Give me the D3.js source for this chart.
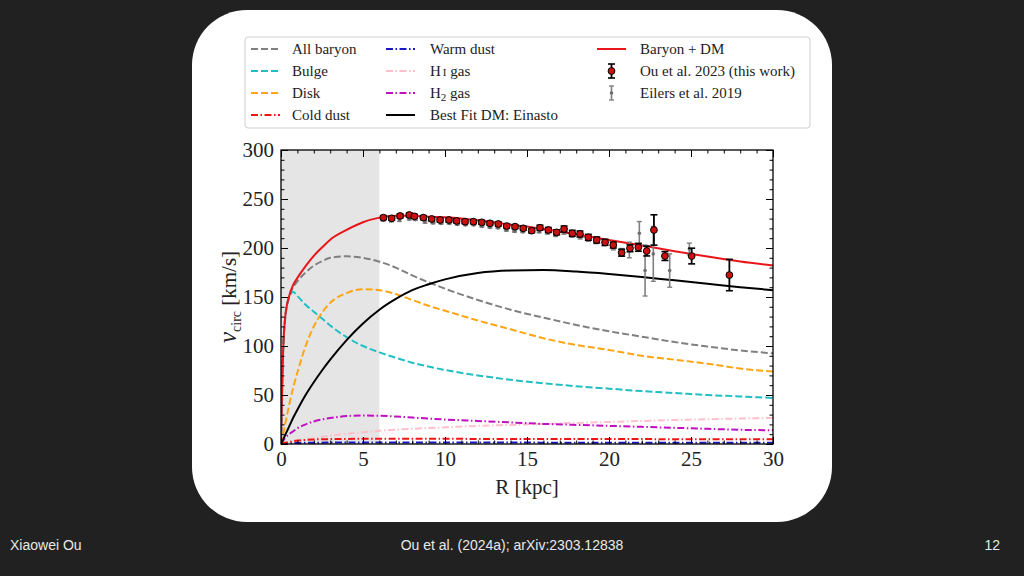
<!DOCTYPE html>
<html>
<head>
<meta charset="utf-8">
<script src="https://cdn.jsdelivr.net/npm/d3@7"></script>
<style>
  html, body { margin: 0; padding: 0; background: #212121; }
  svg { display: block; }
</style>
</head>
<body>
<svg id="chart" width="1024" height="576"></svg>
<script>
// ---------------- DATA ----------------
const rGrid      = [0, 0.1, 0.25, 0.5, 0.75, 1, 1.5, 2, 2.5, 3, 4, 5, 6, 7, 8, 9, 10, 12, 14, 16, 18, 20, 22, 24, 26, 28, 30];
const allBaryon  = [0, 80, 128, 150, 160, 166, 175, 182, 186.5, 190, 191.5, 190, 186, 180, 172, 165, 158.5, 147, 137, 129, 121.5, 115, 109.5, 104, 99.5, 95.5, 92.5];
const bulge      = [0, 80, 127, 150, 155, 151, 142, 135, 128, 121, 109, 100, 93.5, 88, 83, 79, 75.5, 70, 65.5, 62, 59, 56.5, 54, 52, 50, 48.5, 47];
const disk       = [0, 8, 20, 40, 58, 73, 100, 120, 134, 144, 154, 158, 157, 153, 147, 141, 136, 126, 117, 108, 101, 96, 90, 86, 82, 77, 74];
const coldDust   = [0, 0.5, 1.2, 2, 2.8, 3.5, 4.2, 4.6, 4.9, 5, 5.2, 5.3, 5.3, 5.3, 5.3, 5.3, 5.3, 5.2, 5.2, 5.1, 5.1, 5, 5, 4.9, 4.9, 4.8, 4.8];
const warmDust   = [0, 0.2, 0.4, 0.7, 0.9, 1, 1.2, 1.3, 1.4, 1.5, 1.5, 1.5, 1.5, 1.5, 1.5, 1.5, 1.5, 1.5, 1.5, 1.4, 1.4, 1.4, 1.4, 1.4, 1.3, 1.3, 1.3];
const hiGas      = [0, 0.3, 0.8, 1.5, 2.2, 3, 4.5, 6, 7.3, 8.5, 10.5, 12, 13.5, 14.6, 15.5, 16.3, 17, 18.5, 19.5, 20.5, 21.5, 22.5, 23.5, 24.5, 25.2, 26, 26.5];
const h2Gas      = [0, 2.5, 6, 10, 13, 16, 20, 23, 25, 26.5, 28.5, 29, 28.8, 28, 27, 26, 25, 23.5, 22, 20.5, 19.5, 18.5, 17.5, 16.5, 15.5, 14.5, 14];
const dmEinasto  = [0, 3.5, 9, 18, 27, 35, 50, 63, 75, 86, 106, 123, 137, 148, 157, 163, 168, 174.5, 177, 177.5, 176, 173.5, 170.5, 167, 163.5, 160, 157];
const baryonDM   = [0, 80, 128.5, 151, 162.5, 169.5, 181.5, 192, 200.5, 208.5, 218.5, 226.3, 231, 233, 232.9, 231.9, 231.5, 228.2, 223.8, 219.4, 213.9, 208.2, 202.6, 196.7, 191.4, 186.3, 182.2];

const ouR   = [6.24, 6.75, 7.26, 7.82, 8.13, 8.68, 9.19, 9.70, 10.24, 10.71, 11.22, 11.73, 12.24, 12.74, 13.25, 13.76, 14.27, 14.77, 15.29, 15.79, 16.30, 16.81, 17.26, 17.76, 18.23, 18.74, 19.25, 19.76, 20.26, 20.77, 21.28, 21.79, 22.30, 22.74, 23.41, 25.04, 27.34];
const ouV   = [231, 230.3, 232.7, 233.7, 232.3, 231, 229.6, 228.6, 228.6, 227.6, 226.9, 226.9, 226.2, 225.2, 224.5, 222.4, 221.8, 220.1, 217.7, 220.7, 218.4, 216, 219.4, 215, 214.3, 210.9, 208.2, 205.8, 203, 195.2, 199.7, 200.7, 196.9, 218.4, 191.8, 191.8, 172.4];
const ouErr = [2, 2, 2, 2, 2, 2, 2, 2, 2, 2, 2, 2, 2, 2, 2, 2, 2, 2, 2, 2.5, 2.5, 2.5, 3, 3, 3, 3, 3, 3, 3, 3.5, 3.5, 4, 5, 15.5, 4.5, 8, 16];

const eiR   = [6.23, 6.73, 7.22, 7.82, 8.19, 8.78, 9.27, 9.76, 10.26, 10.75, 11.25, 11.75, 12.25, 12.74, 13.23, 13.74, 14.24, 14.74, 15.22, 15.74, 16.24, 16.74, 17.25, 17.75, 18.24, 18.74, 19.22, 19.71, 20.27, 20.78, 21.24, 21.85, 22.2, 22.7, 23.7, 24.9];
const eiV   = [229, 228, 228.5, 229.5, 229, 226.5, 225.5, 225, 225, 224, 223.5, 223.5, 222, 221, 220.5, 218, 217, 216.5, 216, 216.5, 215.5, 213, 215.5, 212.5, 211, 209, 206, 204, 200.5, 197, 198, 215, 177, 194, 177, 199];
const eiErr = [1.7, 1.4, 1.4, 0.9, 0.8, 1.1, 0.7, 0.5, 0.5, 0.5, 0.5, 0.5, 0.6, 0.6, 0.6, 0.7, 0.8, 0.7, 1.1, 0.9, 1.3, 1.3, 1.4, 1.5, 1.8, 2.1, 1.6, 1.9, 2.4, 2.5, 8, 12, 26, 28, 17, 6];

const xTicks = [0, 5, 10, 15, 20, 25, 30];
const yTicks = [0, 50, 100, 150, 200, 250, 300];
const shadedRange = [0, 6];

// ---------------- STYLES ----------------
const DASH = "7,3";
const DASHDOT = "7,2.5,1.5,2.5";
const SERIF = "'Liberation Serif', 'Times New Roman', serif";

const curves = [
  {name: "All baryon",  vals: allBaryon, color: "#808080", dash: DASH,    w: 2},
  {name: "Bulge",       vals: bulge,     color: "#1fbfc4", dash: DASH,    w: 2},
  {name: "Disk",        vals: disk,      color: "#ffa514", dash: DASH,    w: 2},
  {name: "H I gas",     vals: hiGas,     color: "#ffc0cb", dash: DASHDOT, w: 2},
  {name: "H2 gas",      vals: h2Gas,     color: "#c010c0", dash: DASHDOT, w: 2},
  {name: "Warm dust",   vals: warmDust,  color: "#1818c8", dash: DASHDOT, w: 2},
  {name: "Cold dust",   vals: coldDust,  color: "#ee1515", dash: DASHDOT, w: 2},
  {name: "Best Fit DM: Einasto", vals: dmEinasto, color: "#000000", dash: null, w: 2},
  {name: "Baryon + DM", vals: baryonDM,  color: "#e8161b", dash: null,    w: 2},
];

// ---------------- DRAW ----------------
const svg = d3.select("#chart");
svg.append("rect").attr("width", 1024).attr("height", 576).attr("fill", "#212121");
svg.append("rect").attr("x", 192).attr("y", 10).attr("width", 640).attr("height", 512)
   .attr("rx", 55).attr("ry", 55).attr("fill", "#ffffff");

const x = d3.scaleLinear().domain([0, 30]).range([281, 773]);
const y = d3.scaleLinear().domain([0, 300]).range([444, 150]);

svg.append("clipPath").attr("id", "plotclip").append("rect")
  .attr("x", x(0)).attr("y", y(300)).attr("width", x(30) - x(0)).attr("height", y(0) - y(300));

// shaded region
svg.append("rect")
  .attr("x", x(shadedRange[0])).attr("y", y(300))
  .attr("width", x(shadedRange[1]) - x(shadedRange[0]))
  .attr("height", y(0) - y(300))
  .attr("fill", "#e5e5e5");

const plot = svg.append("g").attr("clip-path", "url(#plotclip)");
const line = d3.line().x(d => x(d[0])).y(d => y(d[1])).curve(d3.curveMonotoneX);

curves.forEach(c => {
  plot.append("path")
    .datum(rGrid.map((r, i) => [r, c.vals[i]]))
    .attr("d", line)
    .attr("fill", "none")
    .attr("stroke", c.color)
    .attr("stroke-width", c.w)
    .attr("stroke-dasharray", c.dash)
    .attr("stroke-linejoin", "round");
});

// Eilers et al. 2019 points
const eiData = eiR.map((r, i) => ({r, v: eiV[i], e: eiErr[i]}));
const eg = plot.append("g");
eiData.forEach(d => {
  eg.append("line").attr("x1", x(d.r)).attr("x2", x(d.r))
    .attr("y1", y(d.v - d.e)).attr("y2", y(d.v + d.e))
    .attr("stroke", "#808080").attr("stroke-width", 1.6);
  [d.v - d.e, d.v + d.e].forEach(v => {
    eg.append("line").attr("x1", x(d.r) - 2.5).attr("x2", x(d.r) + 2.5)
      .attr("y1", y(v)).attr("y2", y(v))
      .attr("stroke", "#808080").attr("stroke-width", 1.4);
  });
  eg.append("circle").attr("cx", x(d.r)).attr("cy", y(d.v)).attr("r", 1.8).attr("fill", "#6e6e6e");
});

// Ou et al. 2023 points
const ouData = ouR.map((r, i) => ({r, v: ouV[i], e: ouErr[i]}));
const og = plot.append("g");
ouData.forEach(d => {
  og.append("line").attr("x1", x(d.r)).attr("x2", x(d.r))
    .attr("y1", y(d.v - d.e)).attr("y2", y(d.v + d.e))
    .attr("stroke", "#000").attr("stroke-width", 1.8);
  [d.v - d.e, d.v + d.e].forEach(v => {
    og.append("line").attr("x1", x(d.r) - 3.5).attr("x2", x(d.r) + 3.5)
      .attr("y1", y(v)).attr("y2", y(v))
      .attr("stroke", "#000").attr("stroke-width", 1.6);
  });
});
ouData.forEach(d => {
  og.append("circle").attr("cx", x(d.r)).attr("cy", y(d.v)).attr("r", 3.4)
    .attr("fill", "#cc1010").attr("stroke", "#000").attr("stroke-width", 1);
});

// axes (ticks inward on all four sides)
const minorX = d3.range(0, 31, 1).filter(v => v % 5 !== 0);
const minorY = d3.range(0, 301, 10).filter(v => v % 50 !== 0);

function styleAxis(g) {
  g.select(".domain").remove();
  g.selectAll(".tick line").attr("stroke", "#000").attr("stroke-width", 1);
  g.selectAll("text").attr("font-family", SERIF).attr("font-size", 21).attr("fill", "#222");
}
svg.append("g").attr("transform", `translate(0,${y(0)})`)
  .call(d3.axisBottom(x).tickValues(xTicks).tickSize(-7).tickPadding(7).tickFormat(d3.format("d"))).call(styleAxis);
svg.append("g").attr("transform", `translate(0,${y(0)})`)
  .call(d3.axisBottom(x).tickValues(minorX).tickSize(-3.5).tickFormat("")).call(styleAxis);
svg.append("g").attr("transform", `translate(0,${y(300)})`)
  .call(d3.axisTop(x).tickValues(xTicks).tickSize(-7).tickFormat("")).call(styleAxis);
svg.append("g").attr("transform", `translate(0,${y(300)})`)
  .call(d3.axisTop(x).tickValues(minorX).tickSize(-3.5).tickFormat("")).call(styleAxis);
svg.append("g").attr("transform", `translate(${x(0)},0)`)
  .call(d3.axisLeft(y).tickValues(yTicks).tickSize(-7).tickPadding(7).tickFormat(d3.format("d"))).call(styleAxis);
svg.append("g").attr("transform", `translate(${x(0)},0)`)
  .call(d3.axisLeft(y).tickValues(minorY).tickSize(-3.5).tickFormat("")).call(styleAxis);
svg.append("g").attr("transform", `translate(${x(30)},0)`)
  .call(d3.axisRight(y).tickValues(yTicks).tickSize(-7).tickFormat("")).call(styleAxis);
svg.append("g").attr("transform", `translate(${x(30)},0)`)
  .call(d3.axisRight(y).tickValues(minorY).tickSize(-3.5).tickFormat("")).call(styleAxis);

// frame
svg.append("rect").attr("x", x(0)).attr("y", y(300))
  .attr("width", x(30) - x(0)).attr("height", y(0) - y(300))
  .attr("fill", "none").attr("stroke", "#000").attr("stroke-width", 1.3);

// axis labels
svg.append("text").attr("x", (x(0) + x(30)) / 2).attr("y", 494)
  .attr("text-anchor", "middle").attr("font-family", SERIF).attr("font-size", 21).attr("fill", "#222")
  .text("R [kpc]");

const yl = svg.append("text")
  .attr("transform", `translate(236,${(y(0) + y(300)) / 2}) rotate(-90)`)
  .attr("text-anchor", "middle").attr("font-family", SERIF).attr("font-size", 21).attr("fill", "#222");
yl.append("tspan").attr("font-style", "italic").attr("font-size", 25).text("v");
yl.append("tspan").attr("font-size", 14).attr("dy", 5).text("circ");
yl.append("tspan").attr("dy", -5).text(" [km/s]");

// ---------------- LEGEND ----------------
const leg = svg.append("g");
leg.append("rect").attr("x", 245).attr("y", 37).attr("width", 565).attr("height", 91)
  .attr("rx", 3).attr("fill", "#fff").attr("stroke", "#d0d0d0").attr("stroke-width", 1);

const colX = [{h: 251, t: 292}, {h: 386, t: 430}, {h: 597, t: 640}];
const rowY = [49, 71, 93, 115];
const legendItems = [
  {col: 0, row: 0, curve: "All baryon", label: [["All baryon"]]},
  {col: 0, row: 1, curve: "Bulge", label: [["Bulge"]]},
  {col: 0, row: 2, curve: "Disk", label: [["Disk"]]},
  {col: 0, row: 3, curve: "Cold dust", label: [["Cold dust"]]},
  {col: 1, row: 0, curve: "Warm dust", label: [["Warm dust"]]},
  {col: 1, row: 1, curve: "H I gas", label: [["H"], ["I", "small"], [" gas"]]},
  {col: 1, row: 2, curve: "H2 gas", label: [["H"], ["2", "sub"], [" gas"]]},
  {col: 1, row: 3, curve: "Best Fit DM: Einasto", label: [["Best Fit DM: Einasto"]]},
  {col: 2, row: 0, curve: "Baryon + DM", label: [["Baryon + DM"]]},
  {col: 2, row: 1, marker: "ou", label: [["Ou et al. 2023 (this work)"]]},
  {col: 2, row: 2, marker: "ei", label: [["Eilers et al. 2019"]]},
];
legendItems.forEach(it => {
  const cx = colX[it.col], cy = rowY[it.row];
  if (it.curve) {
    const c = curves.find(k => k.name === it.curve);
    leg.append("line").attr("x1", cx.h).attr("x2", cx.h + 29).attr("y1", cy).attr("y2", cy)
      .attr("stroke", c.color).attr("stroke-width", c.w).attr("stroke-dasharray", c.dash);
  } else if (it.marker === "ou") {
    const mx = cx.h + 14.5;
    leg.append("line").attr("x1", mx).attr("x2", mx).attr("y1", cy - 7).attr("y2", cy + 7).attr("stroke", "#000").attr("stroke-width", 1.8);
    [cy - 7, cy + 7].forEach(v => leg.append("line").attr("x1", mx - 3.5).attr("x2", mx + 3.5).attr("y1", v).attr("y2", v).attr("stroke", "#000").attr("stroke-width", 1.6));
    leg.append("circle").attr("cx", mx).attr("cy", cy).attr("r", 3.4).attr("fill", "#cc1010").attr("stroke", "#000");
  } else if (it.marker === "ei") {
    const mx = cx.h + 14.5;
    leg.append("line").attr("x1", mx).attr("x2", mx).attr("y1", cy - 7).attr("y2", cy + 7).attr("stroke", "#808080").attr("stroke-width", 1.6);
    [cy - 7, cy + 7].forEach(v => leg.append("line").attr("x1", mx - 2.5).attr("x2", mx + 2.5).attr("y1", v).attr("y2", v).attr("stroke", "#808080").attr("stroke-width", 1.4));
    leg.append("circle").attr("cx", mx).attr("cy", cy).attr("r", 1.8).attr("fill", "#6e6e6e");
  }
  const t = leg.append("text").attr("x", cx.t).attr("y", cy + 5)
    .attr("font-family", SERIF).attr("font-size", 15).attr("fill", "#222");
  it.label.forEach(([s, kind], i) => {
    const ts = t.append("tspan").text(s);
    if (kind === "sub") { ts.attr("font-size", 11).attr("dy", 3); }
    else if (kind === "small") { ts.attr("font-size", 11).attr("dx", 2); }
    if (i > 0 && it.label[i - 1][1] === "sub") ts.attr("dy", -3);
  });
});

// ---------------- FOOTER ----------------
const footFont = "'Liberation Sans', Arial, sans-serif";
svg.append("text").attr("x", 10).attr("y", 550).attr("font-family", footFont).attr("font-size", 14)
  .attr("fill", "#e8e8e8").text("Xiaowei Ou");
svg.append("text").attr("x", 512).attr("y", 550).attr("text-anchor", "middle").attr("font-family", footFont)
  .attr("font-size", 14).attr("fill", "#e8e8e8").text("Ou et al. (2024a); arXiv:2303.12838");
svg.append("text").attr("x", 1000).attr("y", 550).attr("text-anchor", "end").attr("font-family", footFont)
  .attr("font-size", 14).attr("fill", "#e8e8e8").text("12");
</script>
</body>
</html>
